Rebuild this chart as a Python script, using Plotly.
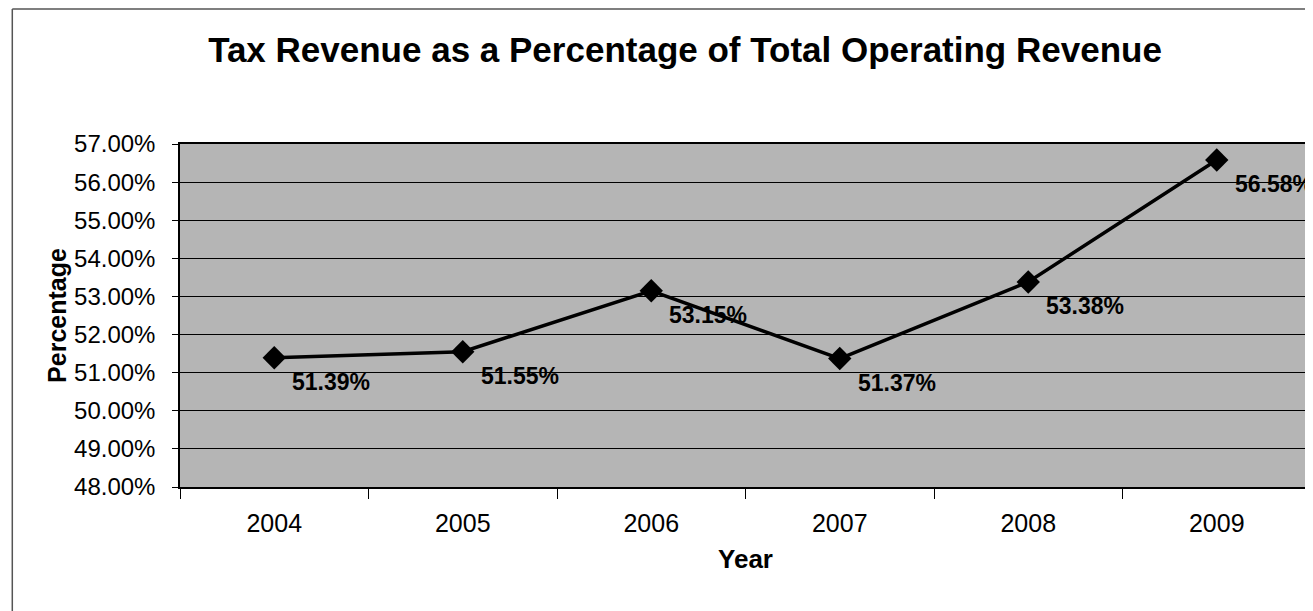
import plotly.graph_objects as go

years = ["2004", "2005", "2006", "2007", "2008", "2009"]
values = [51.39, 51.55, 53.15, 51.37, 53.38, 56.58]
labels = ["51.39%", "51.55%", "53.15%", "51.37%", "53.38%", "56.58%"]
ytick_vals = [48, 49, 50, 51, 52, 53, 54, 55, 56, 57]
ytick_text = ["48.00%", "49.00%", "50.00%", "51.00%", "52.00%", "53.00%",
              "54.00%", "55.00%", "56.00%", "57.00%"]

W, H = 1305, 603
L, T, B = 172, 136, 124
PW, PH = W - L, H - T - B

fig = go.Figure()
fig.add_trace(go.Scatter(
    x=years, y=values, mode="lines+markers",
    line=dict(color="black", width=3.5),
    marker=dict(symbol="diamond", size=18, color="black"),
    showlegend=False, hoverinfo="skip", cliponaxis=False,
))

for i, (v, t) in enumerate(zip(values, labels)):
    fig.add_annotation(
        x=i, y=v, xref="x", yref="y", text="<b>" + t + "</b>", showarrow=False,
        xanchor="left", yanchor="middle", xshift=16, yshift=-24,
        font=dict(family="Liberation Sans, Arial", size=23, color="black"),
    )

fig.update_layout(
    width=W, height=H,
    margin=dict(l=L, r=0, t=T, b=B),
    paper_bgcolor="white",
    plot_bgcolor="#b5b5b5",
    title=dict(
        text="<b>Tax Revenue as a Percentage of Total Operating Revenue</b>",
        x=(685 - 8) / W, xanchor="center", y=1 - (50 - 8) / H, yanchor="middle",
        font=dict(family="Liberation Sans, Arial", size=35, color="black"),
    ),
    font=dict(family="Liberation Sans, Arial", color="black"),
)

fig.update_xaxes(
    type="category", range=[-0.5, 5.5],
    tickson="boundaries", ticks="outside", ticklen=10, tickcolor="black",
    showgrid=False, showline=True, linecolor="black", linewidth=1.5, mirror=True,
    tickfont=dict(size=25, color="black"),
    ticklabelstandoff=13,
    title=dict(text="<b>Year</b>", font=dict(size=26, color="black"), standoff=14),
)

fig.update_yaxes(
    range=[48, 57], tickvals=ytick_vals, ticktext=ytick_text,
    ticks="outside", ticklen=6, tickcolor="black",
    showgrid=True, gridcolor="black", gridwidth=1,
    showline=True, linecolor="black", linewidth=1.5, mirror=True,
    zeroline=False,
    tickfont=dict(size=24, color="black"),
    ticklabelstandoff=12,
    title=dict(text="<b>Percentage</b>", font=dict(size=25, color="black"), standoff=0),
)

# outer chart frame (left and top edges)
fx = -(L - 4) / PW
fy = 1 + (T - 1) / PH
fig.add_shape(type="line", xref="paper", yref="paper",
              x0=fx, x1=fx, y0=-B / PH, y1=fy,
              line=dict(color="#555555", width=1.5))
fig.add_shape(type="line", xref="paper", yref="paper",
              x0=fx, x1=1, y0=fy, y1=fy,
              line=dict(color="#555555", width=1.5))

fig.write_html("out.html")
